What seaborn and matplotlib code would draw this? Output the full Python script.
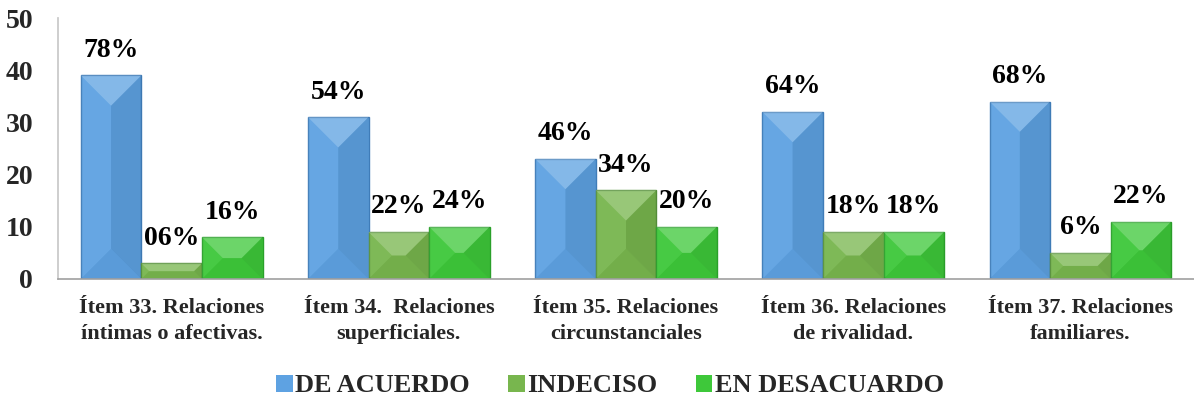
import matplotlib
matplotlib.use("Agg")
import matplotlib.pyplot as plt
from matplotlib.patches import Polygon
import seaborn as sns
import pandas as pd

categories = ["Ítem 33. Relaciones\níntimas o afectivas.",
              "Ítem 34.  Relaciones\nsuperficiales.",
              "Ítem 35. Relaciones\ncircunstanciales",
              "Ítem 36. Relaciones\nde rivalidad.",
              "Ítem 37. Relaciones\nfamiliares."]
series = ["DE ACUERDO", "INDECISO", "EN DESACUARDO"]
de_acuerdo = [39, 31, 23, 32, 34]
indeciso = [3, 9, 17, 9, 5]
en_desacuerdo = [8, 10, 10, 9, 11]
labels_de_acuerdo = ["78%", "54%", "46%", "64%", "68%"]
labels_indeciso = ["06%", "22%", "34%", "18%", "6%"]
labels_en_desacuerdo = ["16%", "24%", "20%", "18%", "22%"]
colors = ["#5ea2e2", "#78b64e", "#3ec83a"]
edges = ["#3f7cb8", "#56903a", "#2aa02a"]

rows = []
for s, vals in zip(series, [de_acuerdo, indeciso, en_desacuerdo]):
    for c, v in zip(categories, vals):
        rows.append({"cat": c, "serie": s, "valor": v})
df = pd.DataFrame(rows)

sns.set_theme(style="white")
plt.rcParams['font.family'] = ['Liberation Serif', 'DejaVu Serif']
plt.rcParams['font.weight'] = 'bold'

fig = plt.figure(figsize=(11.94, 4.0), dpi=100)
ax = fig.add_axes([0.0486, 0.3025, 0.9514, 0.6525])
sns.barplot(data=df, x="cat", y="valor", hue="serie", order=categories,
            hue_order=series, palette=colors, width=0.8, ax=ax,
            saturation=1, edgecolor="none", legend=True)

ax.set_ylim(0, 50)
ax.set_yticks([0, 10, 20, 30, 40, 50])
ax.set_xlim(-0.5, 4.5)

# pixel scale for bevel geometry
p0 = ax.transData.transform((0, 0))
p1 = ax.transData.transform((1, 1))
px_x = p1[0] - p0[0]
px_y = p1[1] - p0[1]

all_labels = [labels_de_acuerdo, labels_indeciso, labels_en_desacuerdo]
for i, cont in enumerate(ax.containers):
    for j, bar in enumerate(cont):
        bar.set_edgecolor(edges[i])
        bar.set_linewidth(1.0)
        x0 = bar.get_x()
        w = bar.get_width()
        h = bar.get_height()
        x1 = x0 + w
        xc = x0 + w / 2
        wpx = w * px_x
        hpx = h * px_y
        d = min(wpx / 2, hpx / 2)
        dx = d / px_x
        dy = d / px_y
        top = [(x0, h), (x1, h), (x1 - dx, h - dy), (x0 + dx, h - dy)]
        bot = [(x0, 0), (x1, 0), (x1 - dx, dy), (x0 + dx, dy)]
        left = [(x0, 0), (x0, h), (x0 + dx, h - dy), (x0 + dx, dy)]
        right = [(x1, 0), (x1, h), (x1 - dx, h - dy), (x1 - dx, dy)]
        inner_r = [(xc, dy), (xc, h - dy), (x1 - dx, h - dy), (x1 - dx, dy)]
        for poly, col, a in [(top, "white", 0.24), (left, "white", 0.05),
                             (right, "black", 0.08), (inner_r, "black", 0.08),
                             (bot, "black", 0.04)]:
            ax.add_patch(Polygon(poly, closed=True, facecolor=col, alpha=a,
                                 edgecolor="none", zorder=bar.get_zorder() + 0.1))
        ax.text(xc, h + 2.4, all_labels[i][j], ha="center", va="bottom",
                fontsize=20, fontweight="bold", color="black",
                family="Liberation Serif", zorder=5)

ax.set_xlabel("")
ax.set_ylabel("")
ax.set_xticks(range(len(categories)))
ax.set_xticklabels(categories, fontsize=16, fontweight="bold",
                   family="Liberation Serif", linespacing=1.4)
ax.tick_params(axis="y", labelsize=20, length=0, pad=18)
ax.tick_params(axis="x", length=0, pad=14)
for lab in ax.get_yticklabels():
    lab.set_fontweight("bold")
    lab.set_family("Liberation Serif")
ax.spines["top"].set_visible(False)
ax.spines["right"].set_visible(False)
ax.spines["left"].set_color("#c8c8c8")
ax.spines["bottom"].set_color("#a0a0a0")
ax.spines["bottom"].set_linewidth(1.2)

handles, lbls = ax.get_legend_handles_labels()
ax.legend(handles, lbls, loc="center",
          bbox_to_anchor=(610 / 1194, 0.035), bbox_transform=fig.transFigure,
          ncol=3, frameon=False, handlelength=0.62, handleheight=0.62,
          columnspacing=1.45, handletextpad=0.1,
          prop={"weight": "bold", "size": 19, "family": "Liberation Serif"})

fig.savefig("out.png", dpi=100)
